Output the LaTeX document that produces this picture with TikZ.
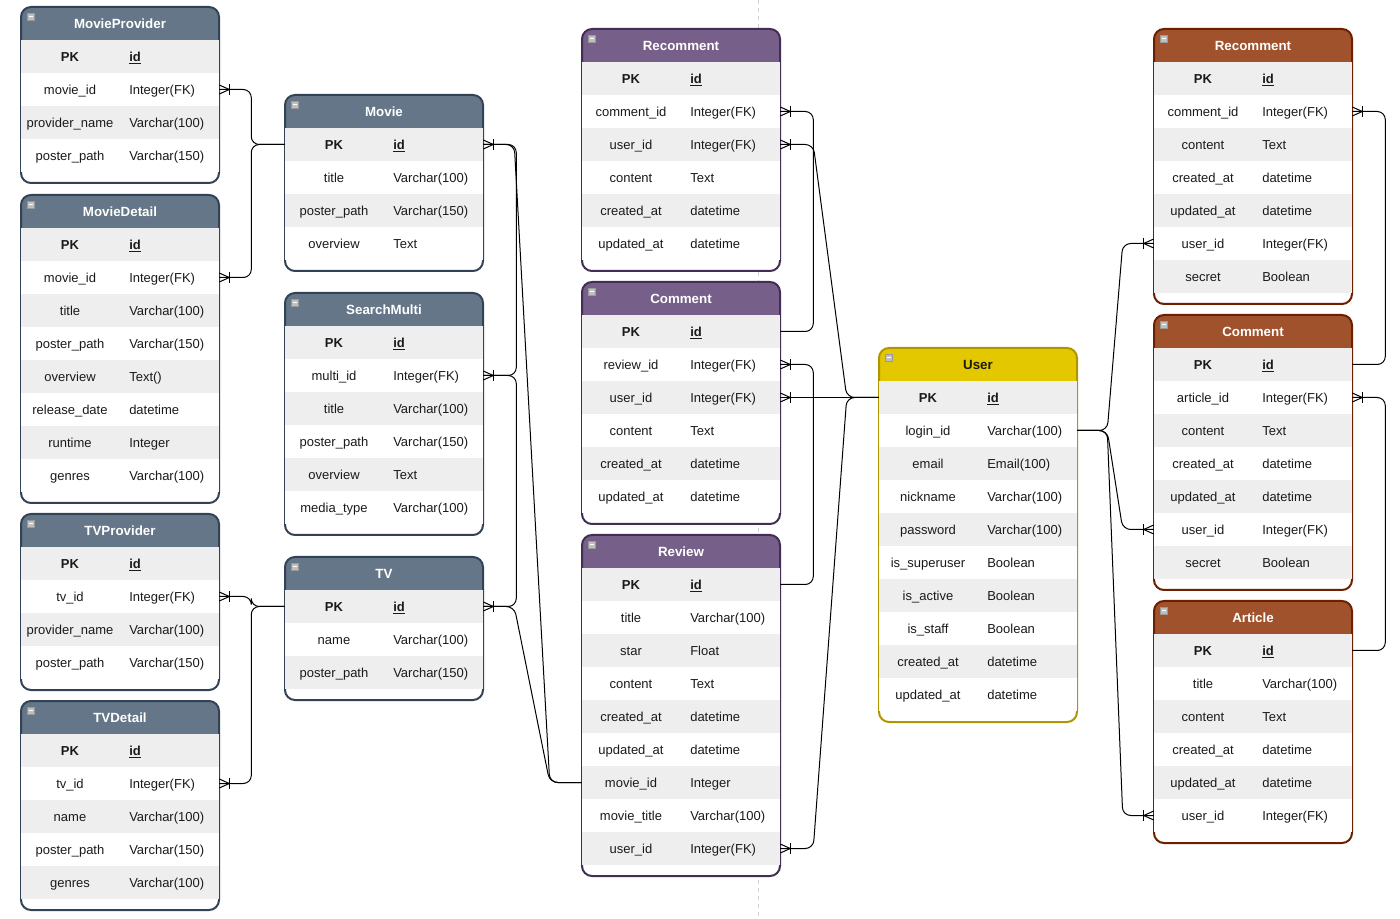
\documentclass[tikz,border=0pt]{standalone}
\usepackage{fontspec}
\setmainfont{Liberation Sans}
\usetikzlibrary{calc}
\definecolor{slateF}{HTML}{647687}
\definecolor{slateS}{HTML}{314354}
\definecolor{slateT}{HTML}{FFFFFF}
\definecolor{purpleF}{HTML}{76608A}
\definecolor{purpleS}{HTML}{432D57}
\definecolor{purpleT}{HTML}{FFFFFF}
\definecolor{yellowF}{HTML}{E3C800}
\definecolor{yellowS}{HTML}{B09500}
\definecolor{yellowT}{HTML}{1A1A1A}
\definecolor{brownF}{HTML}{A0522D}
\definecolor{brownS}{HTML}{6D1F00}
\definecolor{brownT}{HTML}{FFFFFF}
\definecolor{rowgray}{HTML}{EEEEEE}
\definecolor{txt}{HTML}{1A1A1A}
\definecolor{pageline}{HTML}{D4D4D4}
\tikzset{
  rowbox/.style={rectangle, draw=none, inner sep=0pt, minimum width=148.5pt, minimum height=24.75pt},
  cell/.style={inner sep=0pt, text=txt, text height=6.6pt, text depth=2pt, yshift=-1.3pt, font=\fontsize{9.75}{11}\selectfont},
  hdrtext/.style={inner sep=0pt, font=\fontsize{10}{12}\selectfont\bfseries},
  rel/.style={draw=black, line width=0.75pt, rounded corners=6pt},
  crowline/.style={draw=black, line width=0.75pt},
  iconbox/.style={draw=gray!80, fill=gray!50, line width=0.4pt},
}
\newcommand\ertable[6]{%
  \foreach \a/\b [count=\i] in {#6} {\xdef\ernrows{\i}}%
  \pgfmathsetmacro\erbot{#3+33+\ernrows*33+11}%
  \fill[white, rounded corners=7.5pt] (#2,#3) rectangle (#2+198,\erbot);
  \fill[#4F, rounded corners=7.5pt] (#2,#3) rectangle (#2+198,#3+45);
  \draw[#4S, line width=1.5pt, rounded corners=7.5pt] (#2,#3) rectangle (#2+198,\erbot);
  \foreach \a/\b [count=\i] in {#6} {
    \pgfmathsetmacro\ery{#3+33*\i+16.5}
    \ifodd\i\relax \def\erfill{rowgray}\else \def\erfill{white}\fi
    \node[rowbox, fill=\erfill] (#1-\i) at (#2+99,\ery) {};
    \ifnum\i=1\relax
      \node[cell] (#1-\i-k) at (#2+49,\ery) {\textbf{\a}};
      \node[cell, anchor=west] (#1-\i-t) at (#2+108,\ery) {\textbf{\underline{\b}}};
    \else
      \node[cell] (#1-\i-k) at (#2+49,\ery) {\a};
      \node[cell, anchor=west] (#1-\i-t) at (#2+108,\ery) {\b};
    \fi
  }
  \node[hdrtext, text=#4T] (#1-h) at (#2+99,#3+17) {#5};
  \draw[iconbox] (#2+6,#3+6) rectangle (#2+13,#3+13);
  \draw[white, line width=0.8pt] (#2+7.5,#3+9.5) -- (#2+11.5,#3+9.5);
}
\newcommand\crowR[1]{\begin{scope}[shift={(#1)}]
  \draw[crowline] (0,-4.5) -- (10,0) -- (0,4.5);
  \draw[crowline] (10,-5.5) -- (10,5.5);
  \draw[crowline] (0,0) -- (12,0);
\end{scope}}
\newcommand\crowL[1]{\begin{scope}[shift={(#1)}, xscale=-1]
  \draw[crowline] (0,-4.5) -- (10,0) -- (0,4.5);
  \draw[crowline] (10,-5.5) -- (10,5.5);
  \draw[crowline] (0,0) -- (12,0);
\end{scope}}
\begin{document}
\begin{tikzpicture}[x=0.75pt, y=-0.75pt, font=\fontsize{9}{11}\selectfont]
\useasboundingbox (0,0) rectangle (1400,919);
\draw[pageline, dashed, line width=0.5pt] (758,0) -- (758,919);

\ertable{mp}{21}{7}{slate}{MovieProvider}{PK/id, movie\_id/Integer(FK), provider\_name/Varchar(100), poster\_path/Varchar(150)}
\ertable{md}{21}{195}{slate}{MovieDetail}{PK/id, movie\_id/Integer(FK), title/Varchar(100), poster\_path/Varchar(150), overview/Text(), release\_date/datetime, runtime/Integer, genres/Varchar(100)}
\ertable{tp}{21}{514}{slate}{TVProvider}{PK/id, tv\_id/Integer(FK), provider\_name/Varchar(100), poster\_path/Varchar(150)}
\ertable{td}{21}{701}{slate}{TVDetail}{PK/id, tv\_id/Integer(FK), name/Varchar(100), poster\_path/Varchar(150), genres/Varchar(100)}
\ertable{mv}{285}{95}{slate}{Movie}{PK/id, title/Varchar(100), poster\_path/Varchar(150), overview/Text}
\ertable{sm}{285}{293}{slate}{SearchMulti}{PK/id, multi\_id/Integer(FK), title/Varchar(100), poster\_path/Varchar(150), overview/Text, media\_type/Varchar(100)}
\ertable{tv}{285}{557}{slate}{TV}{PK/id, name/Varchar(100), poster\_path/Varchar(150)}
\ertable{rp}{582}{29}{purple}{Recomment}{PK/id, comment\_id/Integer(FK), user\_id/Integer(FK), content/Text, created\_at/datetime, updated\_at/datetime}
\ertable{cp}{582}{282}{purple}{Comment}{PK/id, review\_id/Integer(FK), user\_id/Integer(FK), content/Text, created\_at/datetime, updated\_at/datetime}
\ertable{rv}{582}{535}{purple}{Review}{PK/id, title/Varchar(100), star/Float, content/Text, created\_at/datetime, updated\_at/datetime, movie\_id/Integer, movie\_title/Varchar(100), user\_id/Integer(FK)}
\ertable{us}{879}{348}{yellow}{User}{PK/id, login\_id/Varchar(100), email/Email(100), nickname/Varchar(100), password/Varchar(100), is\_superuser/Boolean, is\_active/Boolean, is\_staff/Boolean, created\_at/datetime, updated\_at/datetime}
\ertable{rb}{1154}{29}{brown}{Recomment}{PK/id, comment\_id/Integer(FK), content/Text, created\_at/datetime, updated\_at/datetime, user\_id/Integer(FK), secret/Boolean}
\ertable{cb}{1154}{315}{brown}{Comment}{PK/id, article\_id/Integer(FK), content/Text, created\_at/datetime, updated\_at/datetime, user\_id/Integer(FK), secret/Boolean}
\ertable{ar}{1154}{601}{brown}{Article}{PK/id, title/Varchar(100), content/Text, created\_at/datetime, updated\_at/datetime, user\_id/Integer(FK)}

% left column -> Movie / TV
\draw[rel] (mp-2.east) -- ++(32,0) |- (mv-1.west);
\draw[rel] (md-2.east) -- ++(32,0) |- (mv-1.west);
\draw[rel] (tp-2.east) -- ++(32,0) |- (tv-1.west);
\draw[rel] (td-2.east) -- ++(32,0) |- (tv-1.west);
% Movie / SearchMulti / TV -> Review
\draw[rel] (mv-1.east) -- ++(33,0) |- (sm-2.east);
\draw[rel] (sm-2.east) -- ++(33,0) |- (tv-1.east);
\draw[rel] (mv-1.east) -- ++(31,0) -- ($(rv-7.west)+(-32,0)$) -- (rv-7.west);
\draw[rel] (tv-1.east) -- ++(31,0) -- ($(rv-7.west)+(-32,0)$) -- (rv-7.west);
% purple tables -> User
\draw[rel] (rp-2.east) -- ++(33,0) |- (cp-1.east);
\draw[rel] (rp-3.east) -- ++(33,0) -- ($(us-1.west)+(-32,0)$) -- (us-1.west);
\draw[rel] (cp-2.east) -- ++(33,0) |- (rv-1.east);
\draw[rel] (cp-3.east) -- (us-1.west);
\draw[rel] (rv-9.east) -- ++(33,0) -- ($(us-1.west)+(-32,0)$) -- (us-1.west);
% User -> brown tables
\draw[rel] (us-2.east) -- ++(30,0) -- ($(rb-6.west)+(-31,0)$) -- (rb-6.west);
\draw[rel] (us-2.east) -- ++(30,0) -- ($(cb-6.west)+(-31,0)$) -- (cb-6.west);
\draw[rel] (us-2.east) -- ++(30,0) -- ($(ar-6.west)+(-31,0)$) -- (ar-6.west);
\draw[rel] (rb-2.east) -- ++(33,0) |- (cb-1.east);
\draw[rel] (cb-2.east) -- ++(33,0) |- (ar-1.east);

% many-side markers
\crowR{mp-2.east} \crowR{md-2.east} \crowR{tp-2.east} \crowR{td-2.east}
\crowR{mv-1.east} \crowR{sm-2.east} \crowR{tv-1.east}
\crowR{rp-2.east} \crowR{rp-3.east} \crowR{cp-2.east} \crowR{cp-3.east} \crowR{rv-9.east}
\crowR{rb-2.east} \crowR{cb-2.east}
\crowL{rb-6.west} \crowL{cb-6.west} \crowL{ar-6.west}
\end{tikzpicture}
\end{document}
